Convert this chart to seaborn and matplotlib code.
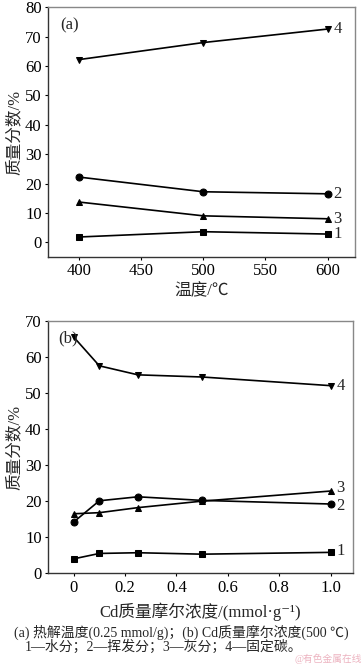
import matplotlib
matplotlib.use("Agg")
import matplotlib.pyplot as plt
import seaborn as sns
import pandas as pd

sns.set_theme(style="ticks")
FAM = ['Liberation Serif', 'Noto Sans CJK SC', 'DejaVu Sans']
plt.rcParams['font.family'] = FAM

# Panel (a): pyrolysis temperature
temp = [400, 500, 600]
a_water = [1.8, 3.6, 2.8]
a_volatile = [22.2, 17.2, 16.5]
a_ash = [13.7, 9.0, 8.0]
a_fixedc = [62.2, 68.0, 72.6]

# Panel (b): Cd molality
conc = [0, 0.1, 0.25, 0.5, 1.0]
b_water = [4.0, 5.5, 5.7, 5.3, 5.8]
b_volatile = [14.2, 20.1, 21.2, 20.2, 19.2]
b_ash = [16.5, 16.8, 18.2, 20.0, 22.8]
b_fixedc = [65.5, 57.5, 55.0, 54.4, 52.0]

series_ids = ["1", "2", "3", "4"]
markers = ["s", "o", "^", "v"]

fig = plt.figure(figsize=(3.63, 6.64), dpi=100)
ax1 = fig.add_axes([0.132, 0.613, 0.846, 0.376])
ax2 = fig.add_axes([0.132, 0.1366, 0.840, 0.3804])

def draw(ax, x, ys, dx, label_dy):
    for sid, y, m, dy in zip(series_ids, ys, markers, label_dy):
        df = pd.DataFrame({"x": x, "y": y})
        sns.lineplot(data=df, x="x", y="y", ax=ax, color="black", lw=1.2,
                     marker=m, markersize=5, markeredgecolor="black",
                     markerfacecolor="black")
        ax.annotate(sid, (x[-1], y[-1]), xytext=(dx, dy),
                    textcoords="offset points", fontsize=12,
                    va="center", ha="left", family=FAM)

draw(ax1, temp, [a_water, a_volatile, a_ash, a_fixedc], 4, [0, 0, 0, 0])
draw(ax2, conc, [b_water, b_volatile, b_ash, b_fixedc], 4, [1, -1.5, 2.5, 0])

ax1.set_xlim(375, 622)
ax1.set_ylim(-5, 80)
ax1.set_xticks([400, 450, 500, 550, 600])
ax1.set_yticks([0, 10, 20, 30, 40, 50, 60, 70, 80])
ax1.set_xlabel("温度/℃", fontsize=12, labelpad=3)
ax1.set_ylabel("质量分数/%", fontsize=12, labelpad=2)
ax1.text(0.04, 0.96, "(a)", transform=ax1.transAxes, fontsize=12, va="top")

ax2.set_xlim(-0.1, 1.086)
ax2.set_ylim(0, 70)
ax2.set_xticks([0, 0.2, 0.4, 0.6, 0.8, 1.0])
ax2.set_xticklabels(["0", "0.2", "0.4", "0.6", "0.8", "1.0"])
ax2.set_yticks([0, 10, 20, 30, 40, 50, 60, 70])
ax2.set_xlabel("Cd质量摩尔浓度/(mmol·g⁻¹)", fontsize=12, labelpad=5)
ax2.set_ylabel("质量分数/%", fontsize=12, labelpad=2)
ax2.text(0.035, 0.96, "(b)", transform=ax2.transAxes, fontsize=12, va="top")

for ax in (ax1, ax2):
    ax.tick_params(direction="out", length=2.5, width=0.8, labelsize=12, pad=2,
                   colors="black")
    for s in ("left", "bottom"):
        ax.spines[s].set_color("#333333")
        ax.spines[s].set_linewidth(1.0)
    for s in ("top", "right"):
        ax.spines[s].set_color("#888888")
        ax.spines[s].set_linewidth(1.0)
    for lab in ax.get_xticklabels() + ax.get_yticklabels():
        lab.set_family(FAM)

fig.text(0.5, 1 - 632 / 664, "(a) 热解温度(0.25 mmol/g)；(b) Cd质量摩尔浓度(500 ℃)",
         ha="center", va="center", fontsize=10, family=FAM)
fig.text(0.45, 1 - 647 / 664, "1—水分；2—挥发分；3—灰分；4—固定碳。",
         ha="center", va="center", fontsize=10, family=FAM)
fig.text(0.998, 1 - 659 / 664, "@有色金属在线", ha="right", va="center",
         fontsize=7, color="#e8a0b0", alpha=0.8, family=FAM)

fig.savefig("out.png", dpi=100)
